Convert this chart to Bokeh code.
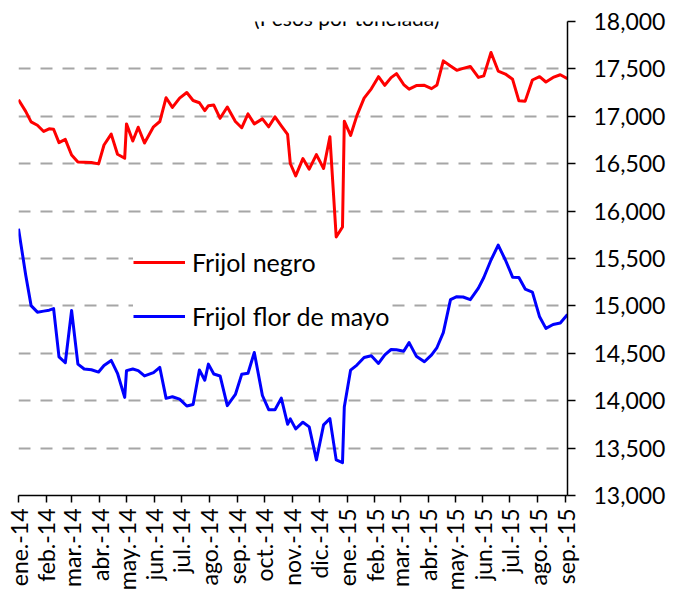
import math
from datetime import date
from bokeh.plotting import figure
from bokeh.models import (Range1d, FixedTicker, Legend, LegendItem, Label,
                          NumeralTickFormatter)
from bokeh.embed import file_html
from bokeh.resources import INLINE

# --- data -----------------------------------------------------------------
# observation dates as days since 2014-01-01
dias = [0, 8, 14, 21, 28, 34, 39, 45, 52, 59,
        66, 73, 81, 89, 95, 103, 110, 118, 120, 127,
        133, 140, 150, 157, 164, 171, 179, 187, 194, 201,
        207, 211, 217, 224, 232, 241, 248, 255, 262, 271,
        278, 285, 292, 299, 302, 308, 316, 323, 331, 339,
        346, 353, 360, 362, 369, 376, 384, 392, 400, 407,
        414, 420, 428, 434, 442, 451, 459, 465, 472, 480,
        487, 494, 502, 511, 517, 525, 533, 541, 549, 556,
        563, 571, 579, 586, 594, 602, 610]

frijol_negro = [17175, 17052, 16941, 16906, 16840, 16868, 16864, 16722, 16756, 16592,
                16519, 16516, 16512, 16498, 16697, 16812, 16600, 16558, 16920, 16739,
                16885, 16718, 16889, 16945, 17196, 17094, 17192, 17251, 17167, 17143,
                17060, 17112, 17119, 16979, 17098, 16945, 16879, 17025, 16920, 16973,
                16889, 16994, 16900, 16809, 16502, 16372, 16554, 16442, 16596, 16450,
                16785, 15727, 15832, 16948, 16798, 17007, 17192, 17290, 17418, 17327,
                17408, 17450, 17335, 17286, 17324, 17327, 17292, 17331, 17585, 17530,
                17485, 17505, 17526, 17410, 17427, 17673, 17477, 17446, 17390, 17163,
                17160, 17383, 17418, 17362, 17410, 17438, 17396]

frijol_flor_de_mayo = [15815, 15327, 15003, 14934, 14945, 14955, 14972, 14463, 14400, 14951,
                       14386, 14334, 14327, 14302, 14372, 14425, 14289, 14035, 14317, 14334,
                       14317, 14261, 14296, 14351, 14025, 14042, 14017, 13944, 13959, 14323,
                       14216, 14386, 14281, 14261, 13948, 14066, 14278, 14289, 14508, 14055,
                       13905, 13905, 14027, 13752, 13808, 13703, 13773, 13724, 13376, 13745,
                       13811, 13376, 13347, 13933, 14323, 14376, 14456, 14474, 14393, 14484,
                       14540, 14537, 14522, 14613, 14470, 14411, 14484, 14561, 14718, 15066,
                       15097, 15094, 15066, 15188, 15300, 15484, 15641, 15484, 15303, 15300,
                       15178, 15146, 14885, 14763, 14804, 14819, 14909]

meses = ["ene.", "feb.", "mar.", "abr.", "may.", "jun.",
         "jul.", "ago.", "sep.", "oct.", "nov.", "dic."]
periodos = [(2014, m) for m in range(1, 13)] + [(2015, m) for m in range(1, 10)]
etiquetas_x = [f"{meses[m - 1]}-{str(y)[2:]}" for y, m in periodos]
y_ticks = [13000, 13500, 14000, 14500, 15000, 15500, 16000, 16500, 17000, 17500, 18000]
titulo = "(Pesos por tonelada)"
series = ["Frijol negro", "Frijol flor de mayo"]

origen = date(2014, 1, 1)
x_ticks = [(date(y, m, 1) - origen).days for y, m in periodos]

FONT = "Lato"
FS = "23px"

p = figure(width=676, height=593, output_backend="svg", toolbar_location=None,
           x_range=Range1d(0, 610), y_range=Range1d(13000, 18000),
           y_axis_location="right",
           min_border_left=18, min_border_right=109,
           min_border_top=21, min_border_bottom=94)
p.outline_line_color = None
p.background_fill_color = "white"
p.border_fill_color = "white"

# grid
p.xgrid.visible = False
p.ygrid.ticker = FixedTicker(ticks=y_ticks[1:])
p.ygrid.grid_line_color = "#A6A6A6"
p.ygrid.grid_line_width = 2
p.ygrid.grid_line_dash = "12 10"

# y axis (right)
ya = p.yaxis[0]
ya.ticker = FixedTicker(ticks=y_ticks)
ya.formatter = NumeralTickFormatter(format="0,0")
ya.axis_line_color = "black"
ya.axis_line_width = 1.5
ya.major_tick_line_color = "black"
ya.major_tick_line_width = 1.5
ya.major_tick_in = 0
ya.major_tick_out = 8
ya.minor_tick_line_color = None
ya.major_label_standoff = 18
ya.major_label_text_font = FONT
ya.major_label_text_font_size = FS
ya.major_label_text_color = "black"

# x axis (below)
xa = p.xaxis[0]
xa.ticker = FixedTicker(ticks=x_ticks)
xa.major_label_overrides = {t: lab for t, lab in zip(x_ticks, etiquetas_x)}
xa.major_label_orientation = math.pi / 2
xa.axis_line_color = "black"
xa.axis_line_width = 1.5
xa.major_tick_line_color = "black"
xa.major_tick_line_width = 1.5
xa.major_tick_in = 0
xa.major_tick_out = 7
xa.minor_tick_line_color = None
xa.major_label_standoff = 6
xa.major_label_text_font = FONT
xa.major_label_text_font_size = FS
xa.major_label_text_color = "black"

r1 = p.line(dias, frijol_negro, line_color="#FF0000", line_width=3, line_join="round")
r2 = p.line(dias, frijol_flor_de_mayo, line_color="#0000FF", line_width=3, line_join="round")

legend = Legend(items=[LegendItem(label=series[0], renderers=[r1]),
                       LegendItem(label=series[1], renderers=[r2])],
                location=(115, 164),
                padding=20, spacing=24, margin=0,
                glyph_width=52, glyph_height=24, label_height=24,
                label_standoff=7,
                label_text_font=FONT, label_text_font_size="25px",
                label_text_color="black",
                border_line_color=None,
                background_fill_color="white", background_fill_alpha=1.0)
p.add_layout(legend)

p.add_layout(Label(x=365, y=18042, text=titulo, text_align="center",
                   text_baseline="alphabetic", text_font=FONT, text_font_size="21px",
                   text_color="black"))

open("out.html", "w").write(file_html(p, INLINE))
